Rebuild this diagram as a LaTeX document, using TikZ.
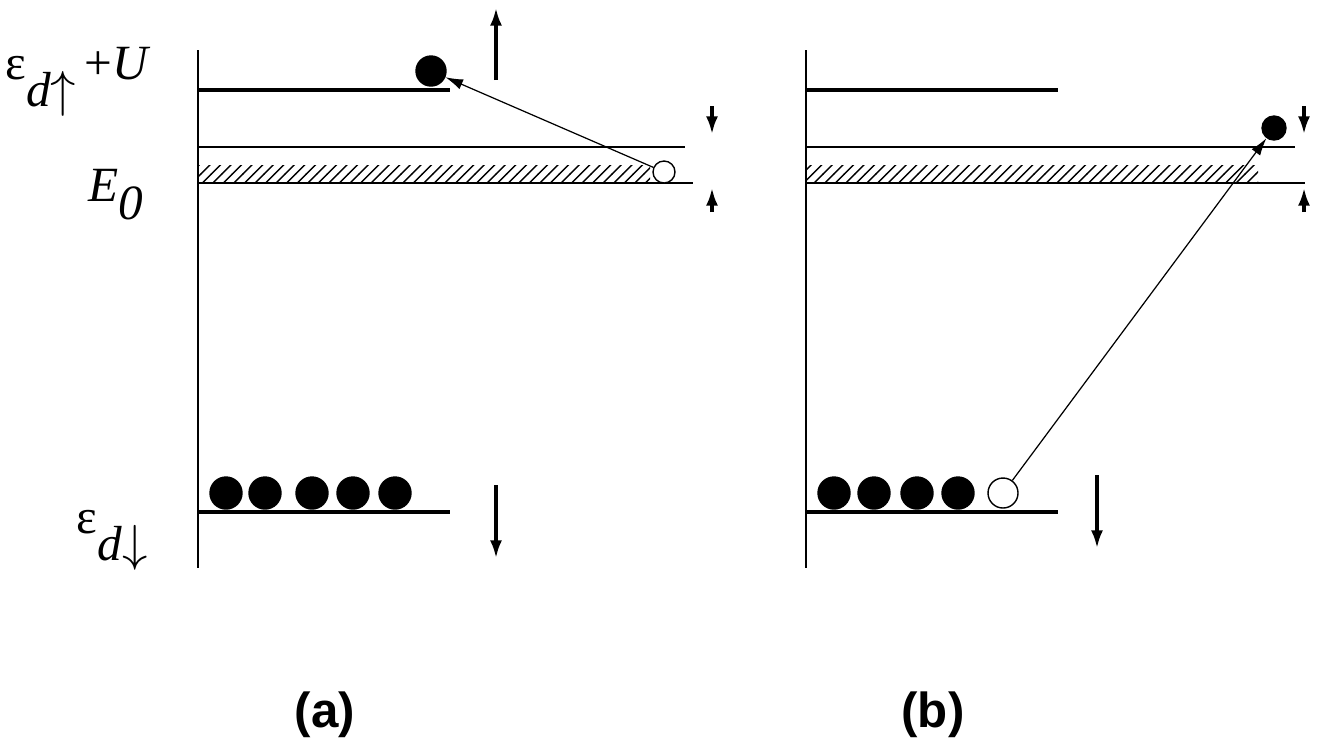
\documentclass[tikz,border=0pt]{standalone}
\usepackage{fontspec}
\setmainfont{Liberation Serif}
\setsansfont{Liberation Sans}
\usetikzlibrary{arrows.meta,patterns}

\begin{document}
\begin{tikzpicture}[x=0.01cm,y=-0.01cm,
    level/.style={line width=1.1pt},
    thin/.style={line width=0.35pt},
    full/.style={circle,fill=black,draw=black,line width=0.4pt,inner sep=0pt,minimum size=#1*0.01cm},
    empty/.style={circle,fill=white,draw=black,line width=0.4pt,inner sep=0pt,minimum size=#1*0.01cm},
    hop/.style={thin,-{Latex[length=5pt,width=3pt]}},
    spin/.style={line width=0.9pt,-{Latex[length=5pt,width=3.4pt]}},
    txt/.style={font=\fontsize{14}{14}\selectfont}]
  \useasboundingbox (0,0) rectangle (1340,744);
  % labels
  \node[txt] (Eup) at (78,82) {ε\raisebox{-1.2ex}{\textit{d}$\uparrow$}\,+\textit{U}};
  \node[txt] (E0) at (116,195) {\textit{E}\raisebox{-0.8ex}{\textit{0}}};
  \node[txt] (Edn) at (112,540) {ε\raisebox{-1.2ex}{\textit{d}$\downarrow$}};
  \foreach \dx/\lab in {0/a,608/b}{
    \begin{scope}[xshift=\dx*0.01cm]
      \draw[thin] (198,50) -- (198,568);
      \draw[level] (198,90) -- (450,90);
      \draw[level] (198,512) -- (450,512);
      \fill[pattern=north east lines] (198,165) rectangle (650,183);
      \node[font=\sffamily\bfseries\fontsize{14}{14}\selectfont] (lab\lab) at (325,715) {(\lab)};
    \end{scope}
  }
  % panel (a)
  \draw[thin] (198,147) -- (685,147);
  \draw[thin] (198,183) -- (693,183);
  \node[full=30] (ha) at (431,71) {};
  \node[empty=22] (ga) at (664,172) {};
  \draw[hop] (ga) -- (ha);
  \foreach \x/\n in {226/1,265/2,312/3,353/4,395/5}
    \node[full=32] (da\n) at (\x,493) {};
  \draw[spin] (496,80) -- (496,8);
  \draw[spin] (496,485) -- (496,558);
  \draw[spin] (712,106) -- (712,134);
  \draw[spin] (712,212) -- (712,188);
  % panel (b)
  \draw[thin] (806,147) -- (1295,147);
  \draw[thin] (806,183) -- (1305,183);
  \foreach \x/\n in {834/1,874/2,917/3,958/4}
    \node[full=32] (db\n) at (\x,493) {};
  \node[empty=30] (gb) at (1003,493) {};
  \node[full=24] (hb) at (1274,128) {};
  \draw[hop] (gb) -- (hb);
  \draw[spin] (1097,475) -- (1097,548);
  \draw[spin] (1304,106) -- (1304,134);
  \draw[spin] (1304,212) -- (1304,188);
\end{tikzpicture}
\end{document}
